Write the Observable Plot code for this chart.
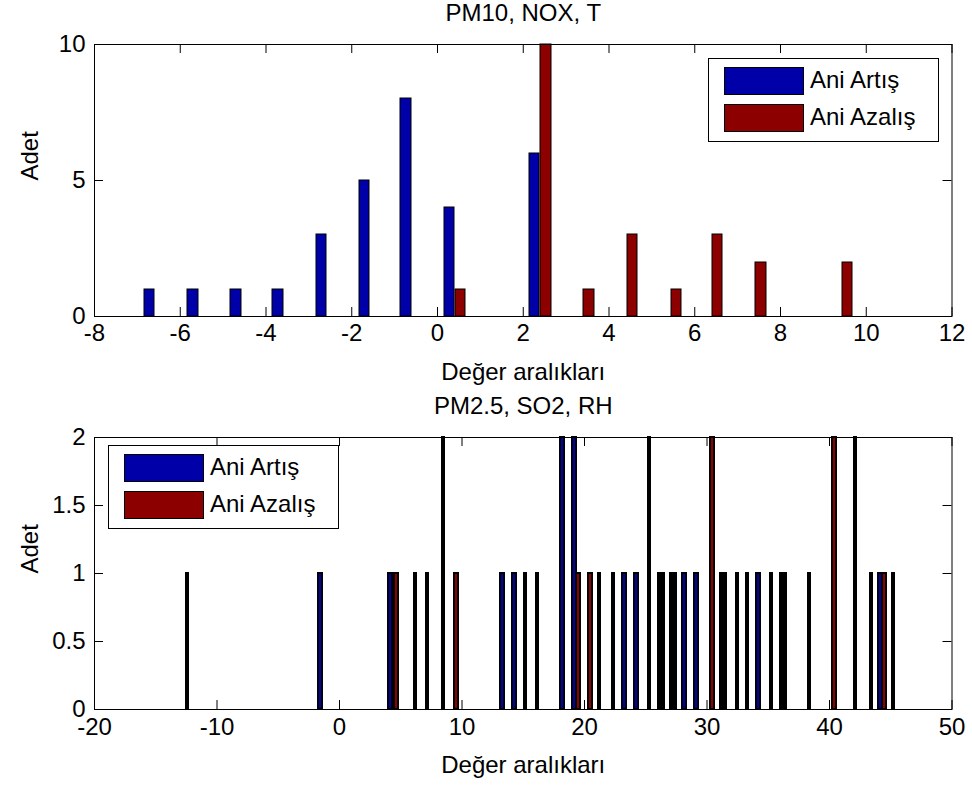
<!DOCTYPE html>
<html>
<head>
<meta charset="utf-8">
<script src="https://cdn.jsdelivr.net/npm/d3@7"></script>
<script src="https://cdn.jsdelivr.net/npm/@observablehq/plot@0.6"></script>
<style>
  body { margin: 0; background: #fff; }
  #wrap { position: relative; width: 972px; height: 787px; font-family: "Liberation Sans", Arial, sans-serif; }
  #wrap svg { display: block; }
  .legend { position: absolute; border: 1px solid #000; background: #fff; box-sizing: border-box; }
  .legend .sw { position: absolute; width: 80px; height: 28px; border: 1px solid #000; box-sizing: border-box; }
  .legend .lab { position: absolute; font-size: 24px; line-height: 28px; white-space: nowrap; color: #000; }
</style>
</head>
<body>
<div id="wrap"></div>
<script>
// Series shared by both panels
const seriesNames = ["Ani Artış", "Ani Azalış"];
const seriesColors = ["#0000a8", "#8c0000"];

// Panel 1: PM10, NOX, T — group centres and counts per series
const ustX      = [-6.58, -5.57, -4.57, -3.59, -2.58, -1.57, -0.60, 0.41, 1.41, 2.40, 3.40, 4.41, 5.44, 6.40, 7.41, 8.42, 9.43];
const ustArtis  = [1, 1, 1, 1, 3, 5, 8, 4, 0, 6, 0, 0, 0, 0, 0, 0, 0];
const ustAzalis = [0, 0, 0, 0, 0, 0, 0, 1, 0, 10, 1, 3, 1, 3, 2, 0, 2];
const ustXTicks = [-8, -6, -4, -2, 0, 2, 4, 6, 8, 10, 12];
const ustYTicks = [0, 5, 10];

// Panel 2: PM2.5, SO2, RH — bar positions and counts per series
const altArtisX  = [-1.55, 4.16, 6.20, 8.49, 13.31, 14.29, 16.16, 18.20, 19.18, 22.37, 23.27, 24.24, 26.12, 27.10, 28.16, 29.14, 31.18, 32.49, 34.20, 35.27, 36.08, 42.12, 44.16, 45.22];
const altArtisN  = [1, 1, 1, 2, 1, 1, 1, 2, 2, 1, 1, 1, 1, 1, 1, 1, 1, 1, 1, 1, 1, 2, 1, 1];
const altAzalisX = [-12.41, 4.65, 7.18, 9.55, 15.18, 19.51, 20.49, 21.22, 25.31, 26.45, 27.43, 30.45, 31.51, 33.31, 36.41, 38.37, 40.41, 43.43, 44.49];
const altAzalisN = [1, 1, 1, 1, 1, 1, 1, 1, 2, 1, 1, 2, 1, 1, 1, 1, 2, 1, 1];
const altXTicks = [-20, -10, 0, 10, 20, 30, 40, 50];
const altYTicks = [0, 0.5, 1, 1.5, 2];

const xLabel = "Değer aralıkları";
const yLabel = "Adet";

// Grouped bars: Artış left of the group centre, Azalış right of it
const ustOffset = 0.133;
const ustRows = ustX.flatMap((x, i) => [
  {x: x - ustOffset, n: ustArtis[i], seri: seriesNames[0]},
  {x: x + ustOffset, n: ustAzalis[i], seri: seriesNames[1]}
]).filter(d => d.n > 0);

const altRows = [
  ...altArtisX.map((x, i) => ({x, n: altArtisN[i], seri: seriesNames[0]})),
  ...altAzalisX.map((x, i) => ({x, n: altAzalisN[i], seri: seriesNames[1]}))
];

const W = 972;
const FONT = "Liberation Sans, Arial, sans-serif";
const FS = 24;

function panel(o) {
  const ml = 94, mr = 20.5, mt = 44;
  const iw = W - ml - mr;
  const ih = o.height - mt - o.mb;
  const tick = 9;
  const txt = {fontSize: FS, lineAnchor: "middle"};
  // bar edges snap to a pixel grid of the panel's x scale so thin outlined bars stay crisp
  const xs = Plot.scale({x: {domain: o.xDomain, range: [ml, W - mr]}});
  const g = o.grid;
  const snap = v => xs.invert(g * Math.round(xs.apply(v) / g));
  return Plot.plot({
    width: W,
    height: o.height,
    marginLeft: ml,
    marginRight: mr,
    marginTop: mt,
    marginBottom: o.mb,
    style: {fontFamily: FONT, fontSize: FS + "px", background: "#fff", color: "#000"},
    x: {domain: o.xDomain, axis: null},
    y: {domain: o.yDomain, round: true, axis: null},
    color: {domain: seriesNames, range: seriesColors},
    marks: [
      Plot.rectY(o.rows, {
        x1: d => snap(d.x - o.barWidth / 2),
        x2: d => snap(d.x + o.barWidth / 2),
        y1: 0,
        y2: "n",
        fill: "seri",
        stroke: "#000",
        strokeWidth: o.barStroke
      }),
      Plot.frame({stroke: "#000", strokeWidth: 1}),
      // inward ticks on all four sides
      Plot.tickX(o.xTicks, {x: d => d, insetTop: ih - tick, stroke: "#000"}),
      Plot.tickX(o.xTicks, {x: d => d, insetBottom: ih - tick, stroke: "#000"}),
      Plot.tickY(o.yTicks, {y: d => d, insetRight: iw - tick, stroke: "#000"}),
      Plot.tickY(o.yTicks, {y: d => d, insetLeft: iw - tick, stroke: "#000"}),
      Plot.text(o.xTicks, {x: d => d, text: d => String(d), frameAnchor: "bottom", dy: o.tickDy, ...txt}),
      Plot.text(o.yTicks, {y: d => d, text: d => String(d), frameAnchor: "left", dx: -9, textAnchor: "end", ...txt}),
      Plot.text([o.title], {text: d => d, frameAnchor: "top", dy: -31, ...txt}),
      Plot.text([xLabel], {text: d => d, frameAnchor: "bottom", dy: 56, ...txt}),
      Plot.text([yLabel], {text: d => d, frameAnchor: "left", dx: -64, rotate: -90, ...txt})
    ]
  });
}

function legend(left, top, width, height) {
  const box = document.createElement("div");
  box.className = "legend";
  Object.assign(box.style, {left: left + "px", top: top + "px", width: width + "px", height: height + "px"});
  seriesNames.forEach((name, i) => {
    const sw = document.createElement("div");
    sw.className = "sw";
    Object.assign(sw.style, {left: "15px", top: (7.5 + i * 37.5) + "px", background: seriesColors[i]});
    const lab = document.createElement("div");
    lab.className = "lab";
    lab.textContent = name;
    Object.assign(lab.style, {left: "101px", top: (6.5 + i * 37.5) + "px"});
    box.append(sw, lab);
  });
  return box;
}

const wrap = document.getElementById("wrap");
wrap.append(panel({
  height: 393, mb: 77, title: "PM10, NOX, T", tickDy: 17,
  xDomain: [-8, 12], yDomain: [0, 10], xTicks: ustXTicks, yTicks: ustYTicks,
  rows: ustRows, barWidth: 0.24, barStroke: 1, grid: 1
}));
wrap.append(panel({
  height: 394, mb: 78, title: "PM2.5, SO2, RH", tickDy: 18,
  xDomain: [-20, 50], yDomain: [0, 2], xTicks: altXTicks, yTicks: altYTicks,
  rows: altRows, barWidth: 0.2449, barStroke: 2, grid: 2
}));
wrap.append(legend(708, 58, 231, 84));
wrap.append(legend(108, 445, 231, 84));
</script>
</body>
</html>
